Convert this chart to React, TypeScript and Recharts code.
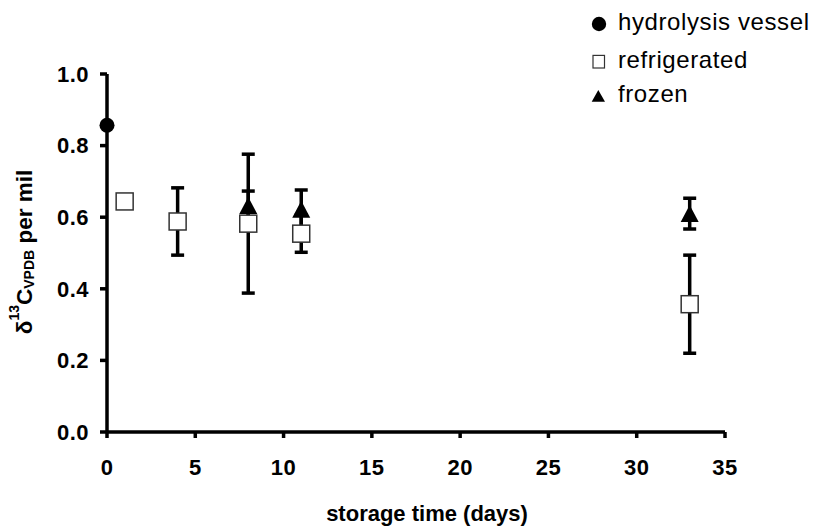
import React from "react";
import {
  ScatterChart,
  Scatter,
  XAxis,
  YAxis,
  ErrorBar,
} from "recharts";

const FONT = '"Liberation Sans", Arial, sans-serif';

// series names, in legend order
const seriesNames = ["hydrolysis vessel", "refrigerated", "frozen"];

const xTicks = [0, 5, 10, 15, 20, 25, 30, 35];
const yTicks = [0, 0.2, 0.4, 0.6, 0.8, 1.0];

const hydroDays = [0];
const hydroVals = [0.857];

const refDays = [1, 4, 8, 11, 33];
const refVals = [0.644, 0.588, 0.582, 0.554, 0.357];
const refErr = [null, 0.094, 0.194, 0.052, 0.137];

const frozenDays = [8, 11, 33];
const frozenVals = [0.633, 0.622, 0.61];
const frozenErr = [0.04, 0.054, 0.043];

const toRows = (days: number[], vals: number[], errs?: (number | null)[]) =>
  days.map((d, i) => ({
    x: d,
    y: vals[i],
    err: errs && errs[i] != null ? errs[i] : undefined,
  }));

const hydroData = toRows(hydroDays, hydroVals);
const refData = toRows(refDays, refVals, refErr);
const frozenData = toRows(frozenDays, frozenVals, frozenErr);

const Dot = (p: any) => <circle cx={p.cx} cy={p.cy} r={7.5} fill="#000" />;

const Square = (p: any) => (
  <rect
    x={p.cx - 8.5}
    y={p.cy - 8.5}
    width={17}
    height={17}
    fill="#fff"
    stroke="#333"
    strokeWidth={1.5}
  />
);

const Triangle = (p: any) => (
  <path
    d={`M${p.cx},${p.cy - 8.5} L${p.cx + 9},${p.cy + 8.5} L${p.cx - 9},${p.cy + 8.5} Z`}
    fill="#000"
  />
);

const tickStyle = {
  fill: "#000",
  fontSize: 22,
  fontWeight: "bold",
  fontFamily: FONT,
  letterSpacing: 0.5,
};

const lineStyle = { stroke: "#000", strokeWidth: 3.5 };

function LegendBox() {
  const rows = [
    { y: 24, base: 30 },
    { y: 61.7, base: 68.3 },
    { y: 96, base: 101.7 },
  ];
  const icons = [
    <circle key="c" cx={599} cy={rows[0].y} r={7.2} fill="#000" />,
    <rect
      key="s"
      x={593}
      y={rows[1].y - 6.3}
      width={11.5}
      height={12.6}
      fill="#fff"
      stroke="#333"
      strokeWidth={1.2}
    />,
    <path
      key="t"
      d={`M598.3,${rows[2].y - 6} L605,${rows[2].y + 5.7} L591.7,${rows[2].y + 5.7} Z`}
      fill="#000"
    />,
  ];
  return (
    <g>
      {seriesNames.map((name, i) => (
        <g key={name}>
          {icons[i]}
          <text
            x={618}
            y={rows[i].base}
            fontSize={24}
            fontFamily={FONT}
            letterSpacing={0.6}
            fill="#000"
          >
            {name}
          </text>
        </g>
      ))}
    </g>
  );
}

export default function App() {
  return (
    <div style={{ position: "absolute", left: 0, top: 0 }}>
      <ScatterChart
        width={814}
        height={527}
        margin={{ top: 74, right: 89, bottom: 35, left: 47 }}
      >
        <XAxis
          type="number"
          dataKey="x"
          domain={[0, 35]}
          ticks={xTicks}
          interval={0}
          height={60}
          tickSize={6}
          tickMargin={21}
          axisLine={lineStyle}
          tickLine={lineStyle}
          tick={tickStyle}
        />
        <YAxis
          type="number"
          dataKey="y"
          domain={[0, 1]}
          ticks={yTicks}
          interval={0}
          width={60}
          tickSize={7}
          tickMargin={11}
          axisLine={lineStyle}
          tickLine={lineStyle}
          tick={tickStyle}
          tickFormatter={(v: number) => v.toFixed(1)}
        />
        <Scatter
          name={seriesNames[0]}
          data={hydroData}
          shape={Dot}
          isAnimationActive={false}
        />
        <Scatter
          name={seriesNames[2]}
          data={frozenData}
          shape={Triangle}
          isAnimationActive={false}
        >
          <ErrorBar
            dataKey="err"
            direction="y"
            width={6.5}
            stroke="#000"
            strokeWidth={3.5}
            isAnimationActive={false}
          />
        </Scatter>
        <Scatter
          name={seriesNames[1]}
          data={refData}
          shape={Square}
          isAnimationActive={false}
        >
          <ErrorBar
            dataKey="err"
            direction="y"
            width={6.5}
            stroke="#000"
            strokeWidth={3.5}
            isAnimationActive={false}
          />
        </Scatter>
        <text
          x={427}
          y={521}
          textAnchor="middle"
          fontSize={22}
          fontWeight="bold"
          fontFamily={FONT}
          fill="#000"
        >
          storage time (days)
        </text>
        <text
          transform="rotate(-90 31.5 252)"
          x={31.5}
          y={252}
          textAnchor="middle"
          fontSize={22.5}
          fontWeight="bold"
          fontFamily={FONT}
          fill="#000"
        >
          <tspan>δ</tspan>
          <tspan fontSize={14} dy={-13}>13</tspan>
          <tspan dy={13}>C</tspan>
          <tspan fontSize={14} dy={2}>VPDB</tspan>
          <tspan dy={-2}> per mil</tspan>
        </text>
        <LegendBox />
      </ScatterChart>
    </div>
  );
}
